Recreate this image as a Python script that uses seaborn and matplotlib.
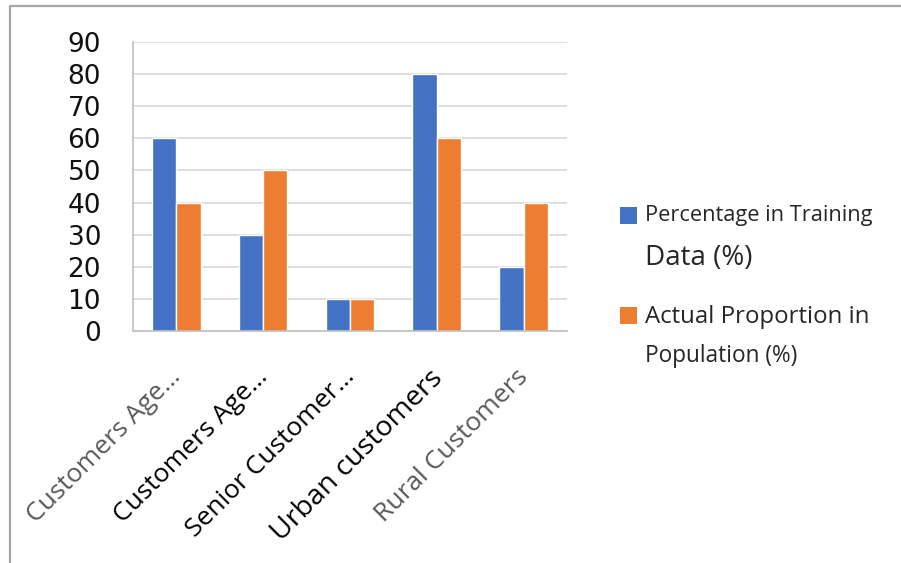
import pandas as pd
import matplotlib
matplotlib.use('Agg')
import matplotlib.pyplot as plt
import matplotlib.transforms as mtransforms
from matplotlib.lines import Line2D
from matplotlib.patches import Rectangle
import seaborn as sns

# chart data
categories = ['Customers Age…', 'Customers Age…', 'Senior Customer…',
              'Urban customers', 'Rural Customers']
training_pct = [60, 30, 10, 80, 20]
population_pct = [40, 50, 10, 60, 40]
series_names = ['Percentage in Training Data (%)', 'Actual Proportion in Population (%)']

df = pd.DataFrame({
    'category': categories * 2,
    'pos': list(range(len(categories))) * 2,
    'value': training_pct + population_pct,
    'series': [series_names[0]] * len(categories) + [series_names[1]] * len(categories),
})

blue, orange = '#4472C4', '#ED7D31'
grid_c = '#D9D9D9'
axis_c = '#BFBFBF'

sns.set_style('white')
fig = plt.figure(figsize=(9.01, 5.63), dpi=100)
ax = fig.add_axes([0.1476, 0.4121, 0.4817, 0.5133])

sns.barplot(data=df, x='pos', y='value', hue='series', order=range(len(categories)),
            hue_order=series_names, palette=[blue, orange], width=0.56, gap=0,
            saturation=1, legend=False, ax=ax)

ax.set_ylim(0, 90)
ax.set_xlim(-0.5, len(categories) - 0.5)
ax.set_yticks(range(0, 91, 10))
ax.yaxis.grid(True, color=grid_c, linewidth=1.2)
ax.set_axisbelow(True)
ax.set_xlabel('')
ax.set_ylabel('')

for s in ['top', 'right']:
    ax.spines[s].set_visible(False)
ax.spines['left'].set_color(axis_c)
ax.spines['bottom'].set_color(axis_c)
ax.spines['left'].set_linewidth(1.2)
ax.spines['bottom'].set_linewidth(1.2)

ax.tick_params(axis='y', length=8, color=grid_c, width=1.2, labelsize=19, pad=15)
for t in ax.get_yticklabels():
    t.set_fontfamily('DejaVu Sans')
    t.set_color('#111111')

# category boundary ticks, labels at centres
ax.set_xticks([i - 0.5 for i in range(len(categories) + 1)], minor=True)
ax.tick_params(axis='x', which='minor', length=8, color=axis_c, width=1.2)
ax.set_xticks(range(len(categories)))
ax.set_xticklabels(categories)
ax.tick_params(axis='x', which='major', length=0, pad=24)
label_colors = ['#595959', 'black', 'black', 'black', '#595959']
label_sizes = [19, 19, 19, 20.5, 19]
shift = mtransforms.ScaledTranslation(-0.08, 0, fig.dpi_scale_trans)
for t, c, fs in zip(ax.get_xticklabels(), label_colors, label_sizes):
    t.set_rotation(45)
    t.set_ha('right')
    t.set_rotation_mode('anchor')
    t.set_color(c)
    t.set_fontsize(fs)
    t.set_fontfamily('Open Sans')
    t.set_transform(t.get_transform() + shift)

# legend drawn at right
W, H = 901, 563
def px(x, y):
    return x / W, 1 - y / H

for (y_sq, col) in [(216, blue), (316, orange)]:
    x0, y0 = px(620, y_sq + 8)
    fig.add_artist(Rectangle((x0, y0), 17 / W, 17 / H, transform=fig.transFigure,
                             facecolor=col, edgecolor='none'))

legend_lines = [
    (645, 216, 'Percentage in Training', 15.7),
    (645, 258, 'Data (%)', 20),
    (645, 317, 'Actual Proportion in', 17.3),
    (645, 356, 'Population (%)', 16.3),
]
for x, y, txt, fs in legend_lines:
    fig.text(*px(x, y), txt, fontsize=fs, family='Open Sans', color='#262626', va='center', ha='left')

# outer frame (top and left edges)
fig.add_artist(Line2D([10 / W, 1], [1 - 6 / H, 1 - 6 / H], transform=fig.transFigure,
                      color='#A6A6A6', linewidth=1.6))
fig.add_artist(Line2D([10 / W, 10 / W], [0, 1 - 6 / H], transform=fig.transFigure,
                      color='#A6A6A6', linewidth=1.6))

fig.savefig('out.png', dpi=100)
